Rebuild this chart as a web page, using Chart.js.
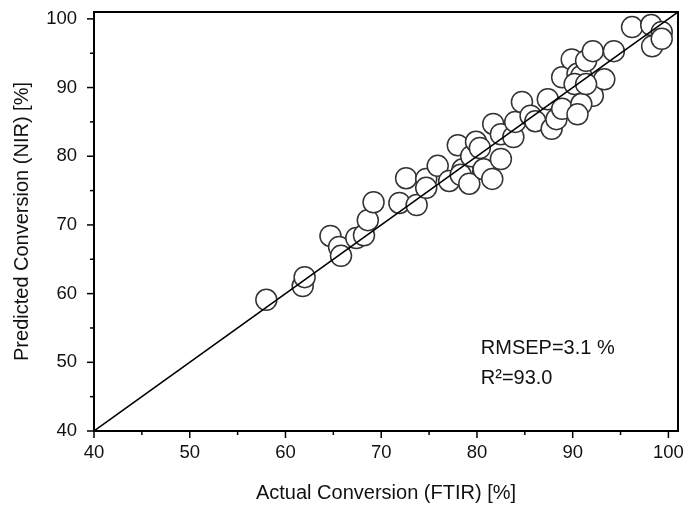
<!DOCTYPE html>
<html>
<head>
<meta charset="utf-8">
<script src="https://cdn.jsdelivr.net/npm/chart.js@4"></script>
<style>
  html, body { margin: 0; padding: 0; background: #fff; }
  #wrap { width: 690px; height: 507px; }
</style>
</head>
<body>
<div id="wrap"><canvas id="nirChart" width="690" height="507"></canvas></div>
<script>
const actual = [
  58.0, 61.8, 62.0, 64.7, 65.6, 65.8, 67.4, 68.2, 68.6, 69.2,
  71.9, 72.6, 73.7, 74.7, 74.7, 75.9, 77.1, 78.0, 78.5, 78.3,
  79.4, 79.9, 79.2, 80.7, 81.6, 81.7, 82.5, 82.5, 83.8, 84.0,
  84.7, 85.6, 86.1, 87.4, 87.8, 88.3, 88.9, 88.9, 89.9, 90.5,
  90.9, 90.2, 91.4, 92.1, 92.1, 90.9, 90.5, 93.3, 94.3, 96.2,
  98.2, 99.3, 98.3, 99.3, 91.4, 80.3
];
const predicted = [
  59.1, 61.1, 62.4, 68.4, 66.8, 65.5, 68.1, 68.5, 70.7, 73.3,
  73.2, 76.8, 72.9, 76.7, 75.4, 78.6, 76.4, 81.6, 78.1, 77.3,
  80.0, 82.1, 76.0, 78.1, 76.7, 84.7, 79.6, 83.2, 82.8, 85.0,
  87.9, 85.9, 85.1, 88.3, 84.0, 85.4, 86.9, 91.5, 94.1, 92.0,
  91.7, 90.5, 93.9, 95.3, 88.8, 87.6, 86.1, 91.2, 95.3, 98.8,
  99.1, 98.1, 96.0, 97.1, 90.5, 81.2
];
// 1:1 reference line
const diagX = [40, 101];
const diagY = [40, 101];
const majorTicks = [40, 50, 60, 70, 80, 90, 100];
const minorTicks = [45, 55, 65, 75, 85, 95];
const statLines = ["RMSEP=3.1 %", "R\u00b2=93.0"];

const FONT = "'Liberation Sans', Arial, sans-serif";

const toPoints = (xs, ys) => xs.map((x, i) => ({ x: x, y: ys[i] }));
const setMajor = (scale) => {
  scale.ticks = majorTicks.map((v) => ({ value: v }));
};

// box around the plot, outward major/minor ticks, stats text
const framePlugin = {
  id: "frame",
  afterDraw(chart) {
    const { ctx, chartArea, scales } = chart;
    ctx.save();
    ctx.strokeStyle = "#000";
    ctx.lineWidth = 1.5;
    const drawTick = (v, len) => {
      const px = scales.x.getPixelForValue(v);
      ctx.beginPath();
      ctx.moveTo(px, chartArea.bottom);
      ctx.lineTo(px, chartArea.bottom + len);
      ctx.stroke();
      const py = scales.y.getPixelForValue(v);
      ctx.beginPath();
      ctx.moveTo(chartArea.left, py);
      ctx.lineTo(chartArea.left - len, py);
      ctx.stroke();
    };
    majorTicks.forEach((v) => drawTick(v, 7));
    minorTicks.forEach((v) => drawTick(v, 4));
    ctx.lineWidth = 2;
    ctx.strokeRect(chartArea.left, chartArea.top,
      chartArea.right - chartArea.left, chartArea.bottom - chartArea.top);

    ctx.fillStyle = "#111";
    ctx.font = "20px " + FONT;
    ctx.textBaseline = "middle";
    ctx.textAlign = "left";
    const tx = scales.x.getPixelForValue(80.4);
    ctx.fillText(statLines[0], tx, scales.y.getPixelForValue(52.0));
    ctx.fillText(statLines[1], tx, scales.y.getPixelForValue(47.7));
    ctx.restore();
  },
};

new Chart(document.getElementById("nirChart").getContext("2d"), {
  type: "scatter",
  data: {
    datasets: [
      {
        type: "line",
        data: toPoints(diagX, diagY),
        borderColor: "#000",
        borderWidth: 1.5,
        pointRadius: 0,
        fill: false,
      },
      {
        data: toPoints(actual, predicted),
        pointRadius: 10.5,
        pointBorderWidth: 1.5,
        pointBorderColor: "#333",
        pointBackgroundColor: "#fff",
        pointHoverRadius: 10.5,
      },
    ],
  },
  options: {
    responsive: false,
    animation: false,
    layout: { padding: { top: 12, right: 1, left: 0, bottom: 0 } },
    plugins: {
      legend: { display: false },
      tooltip: { enabled: false },
    },
    scales: {
      x: {
        type: "linear",
        min: 40,
        max: 101,
        grid: { display: false },
        border: { display: false },
        afterBuildTicks: setMajor,
        ticks: {
          padding: 3,
          color: "#111",
          font: { family: FONT, size: 18.5 },
        },
        title: {
          display: true,
          text: "Actual Conversion (FTIR) [%]",
          color: "#111",
          font: { family: FONT, size: 20 },
          padding: { top: 0, bottom: 2 },
        },
        afterFit: (s) => {
          s.height = 76;
          s.paddingLeft = 0;
          s.paddingRight = 0;
        },
      },
      y: {
        type: "linear",
        min: 40,
        max: 101,
        grid: { display: false },
        border: { display: false },
        afterBuildTicks: setMajor,
        ticks: {
          padding: 9,
          color: "#111",
          font: { family: FONT, size: 18.5 },
        },
        title: {
          display: true,
          text: "Predicted Conversion (NIR) [%]",
          color: "#111",
          font: { family: FONT, size: 20 },
          padding: { top: 10, bottom: 0 },
        },
        afterFit: (s) => {
          s.width = 94;
          s.paddingTop = 0;
          s.paddingBottom = 0;
        },
      },
    },
  },
  plugins: [framePlugin],
});
</script>
</body>
</html>
